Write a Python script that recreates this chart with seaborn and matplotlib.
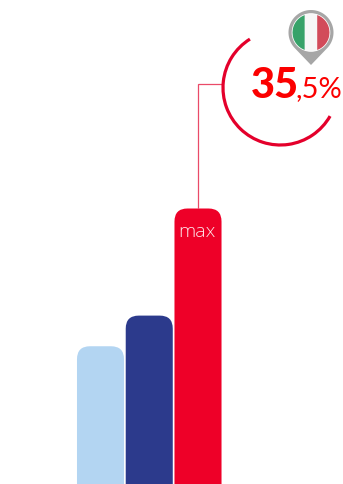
import numpy as np
import pandas as pd
import seaborn as sns
import matplotlib
matplotlib.use("Agg")
import matplotlib.pyplot as plt
from matplotlib.patches import FancyBboxPatch, Polygon, Circle, Arc

categories = ["a", "b", "max"]
values = [17.75, 21.7, 35.5]
bar_colors = ["#b3d5f2", "#2c3a8c", "#ee0028"]
label_main = "35"
label_rest = ",5%"
label_max = "max"

W, H = 343, 485
sns.set_theme(style="white")
plt.rcParams["font.family"] = ["Lato", "DejaVu Sans"]

fig = plt.figure(figsize=(W / 100, H / 100), dpi=100)
ax = fig.add_axes([0, 0, 1, 1])
df = pd.DataFrame({"cat": categories, "val": values})
sns.barplot(data=df, x="cat", y="val", hue="cat", palette=bar_colors, width=0.965,
            legend=False, ax=ax, saturation=1)
ax.set_xlim(-100.5 / 48.75, (W - 100.5) / 48.75)
ax.set_ylim(0, H / 275.5 * 35.5)
ax.axis("off")

px_x = (ax.get_xlim()[1] - ax.get_xlim()[0]) / W
px_y = (ax.get_ylim()[1] - ax.get_ylim()[0]) / H
for bar in list(ax.patches):
    rp = FancyBboxPatch((bar.get_x(), -5), bar.get_width(), bar.get_height() + 5,
                        boxstyle=f"round,pad=0,rounding_size={13 * px_x}",
                        mutation_aspect=px_y / px_x,
                        fc=bar.get_facecolor(), ec="none", zorder=3)
    ax.add_patch(rp)
    bar.remove()

# overlay in pixel coordinates for the decoration
ov = fig.add_axes([0, 0, 1, 1], facecolor="none")
ov.set_xlim(0, W)
ov.set_ylim(H, 0)
ov.axis("off")

red = "#e4002b"
ov.plot([198, 198, 223], [209, 84.5, 84.5], color="#ea4a68", lw=0.9, solid_joinstyle="miter", zorder=2)
ov.add_patch(Arc((280.3, 88.7), 2 * 57.3, 2 * 57.3, theta1=29.7, theta2=238, color=red, lw=2.3, zorder=3))

# pin
cx, cy, R, r = 311, 33.5, 22.5, 18.5
t = np.radians(np.linspace(224, -44, 100))
pin = np.c_[cx + R * np.cos(t), cy - R * np.sin(t)]
pin = np.vstack([pin, [cx, 66]])
ov.add_patch(Polygon(pin, closed=True, fc="#a6a6a6", ec="none", zorder=4))
ov.add_patch(Circle((cx, cy), r + 0.8, fc="white", ec="none", zorder=5))

def segment(x0, x1):
    xs = np.linspace(x0, x1, 40)
    ys = np.sqrt(np.maximum(r**2 - (xs - cx)**2, 0))
    return np.vstack([np.c_[xs, cy - ys], np.c_[xs[::-1], cy + ys[::-1]]])

ov.add_patch(Polygon(segment(cx - r, cx - 6.2), closed=True, fc="#37a269", ec="none", zorder=6))
ov.add_patch(Polygon(segment(cx - 6.2, cx + 6.2), closed=True, fc="#f7f7f7", ec="none", zorder=6))
ov.add_patch(Polygon(segment(cx + 6.2, cx + r), closed=True, fc="#d24b5a", ec="none", zorder=6))

ov.text(251, 97.5, label_main, color="#fb0000", fontsize=30, fontweight="black", ha="left", va="baseline", zorder=7)
ov.text(295.5, 97.5, label_rest, color="#fb0000", fontsize=21, ha="left", va="baseline", zorder=7)
ov.text(197, 237.5, label_max, color="#fde6ea", fontsize=14, family=["Open Sans", "DejaVu Sans"],
        fontweight="light", ha="center", va="baseline", zorder=7)

fig.savefig("out.png", dpi=100)
